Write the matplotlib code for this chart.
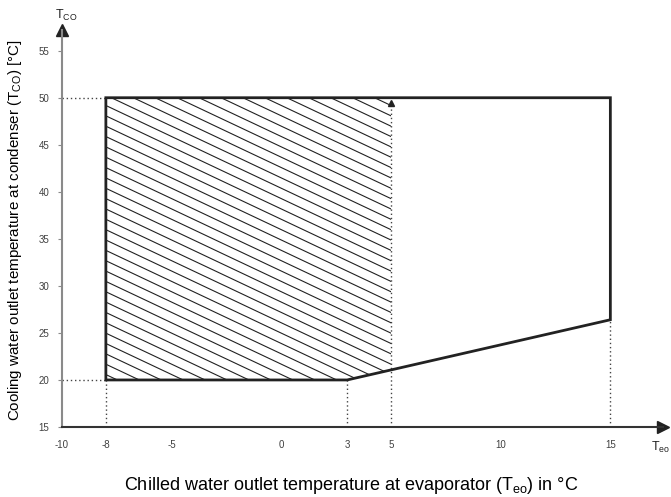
import numpy as np
import matplotlib.pyplot as plt
from matplotlib.patches import Polygon

plt.rcParams['font.family'] = ['Liberation Sans', 'DejaVu Sans']
plt.rcParams['axes.unicode_minus'] = False

# operating envelope (evaporator outlet vs condenser outlet)
env_x = [-8, 3, 15, 15, -8]
env_y = [20, 20, 26.4, 50, 50]
hatch_limit = 5  # hatched part runs up to this evaporator temperature

x_ticks = [-10, -8, -5, 0, 3, 5, 10, 15]
y_ticks = [15, 20, 25, 30, 35, 40, 45, 50, 55]

x_min, x_max = -10, 17.4
y_min, y_max = 15, 57.2

fig = plt.figure(figsize=(6.71, 4.97), dpi=100)
ax = fig.add_axes([62 / 671, 70 / 497, 601 / 671, 397 / 497])
ax.set_xlim(x_min, x_max)
ax.set_ylim(y_min, y_max)

# hatched sub-region, closed at the x = 5 cut
y_cut = np.interp(hatch_limit, env_x[1:3], env_y[1:3])
hx = [env_x[0], env_x[1], hatch_limit, hatch_limit, env_x[4]]
hy = [env_y[0], env_y[1], y_cut, env_y[3], env_y[4]]
clip = Polygon(np.column_stack([hx, hy]), closed=True, facecolor='none',
               edgecolor='none')
ax.add_patch(clip)
slope = -1.1
xs = np.array([x_min, x_max])
for x0 in np.arange(-7.75 - 40, 10, 1.0):
    ln, = ax.plot(xs, env_y[3] + slope * (xs - x0), color='#222222', lw=0.8)
    ln.set_clip_path(clip)

# envelope outline
ax.add_patch(Polygon(np.column_stack([env_x, env_y]), closed=True,
                     facecolor='none', edgecolor='#222222', lw=2.0,
                     joinstyle='miter', zorder=3))

# dotted guide lines
dot = dict(color='#444444', lw=1.0, ls=(0, (1, 2)), zorder=2)
ax.plot([x_min, env_x[0]], [env_y[3], env_y[3]], **dot)
ax.plot([x_min, env_x[0]], [env_y[0], env_y[0]], **dot)
ax.plot([env_x[0], env_x[0]], [y_min, env_y[0]], **dot)
ax.plot([env_x[1], env_x[1]], [y_min, env_y[1]], **dot)
ax.plot([env_x[2], env_x[2]], [y_min, env_y[2]], **dot)
ax.plot([hatch_limit, hatch_limit], [y_min, env_y[3] - 0.6], **dot)
ax.plot([hatch_limit], [env_y[3] - 0.6], marker='^', ms=5, color='#222222',
        zorder=4)

# axes with arrow heads
for s in ['top', 'right']:
    ax.spines[s].set_visible(False)
ax.spines['left'].set_color('#8a8a8a')
ax.spines['left'].set_linewidth(1.5)
ax.spines['bottom'].set_color('#333333')
ax.spines['bottom'].set_linewidth(1.5)
ax.plot([x_min], [y_max], marker='^', ms=8, color='#222222', clip_on=False)
ax.plot([x_max], [y_min], marker='>', ms=8, color='#222222', clip_on=False)

ax.set_xticks(x_ticks)
ax.set_yticks(y_ticks)
ax.tick_params(axis='x', length=0, pad=9, labelsize=7, labelcolor='#404040')
ax.tick_params(axis='y', length=3, width=0.8, color='#8a8a8a', pad=6,
               labelsize=7, labelcolor='#404040')

fig.text(55 / 671, 1 - 15 / 497, r'T$_{\mathregular{CO}}$', fontsize=9,
         ha='left', va='center', color='#222222')
fig.text(651 / 671, 1 - 447 / 497, r'T$_{\mathregular{eo}}$', fontsize=9,
         ha='left', va='center', color='#222222')

fig.text(351 / 671, 1 - 485 / 497,
         r'Chilled water outlet temperature at evaporator (T$_{\mathregular{eo}}$) in °C',
         fontsize=13, ha='center', va='center')
fig.text(15 / 671, 1 - 230 / 497,
         r'Cooling water outlet temperature at condenser (T$_{\mathregular{CO}}$) [°C]',
         fontsize=10.9, rotation=90, ha='center', va='center')

fig.savefig('out.png', dpi=100)
